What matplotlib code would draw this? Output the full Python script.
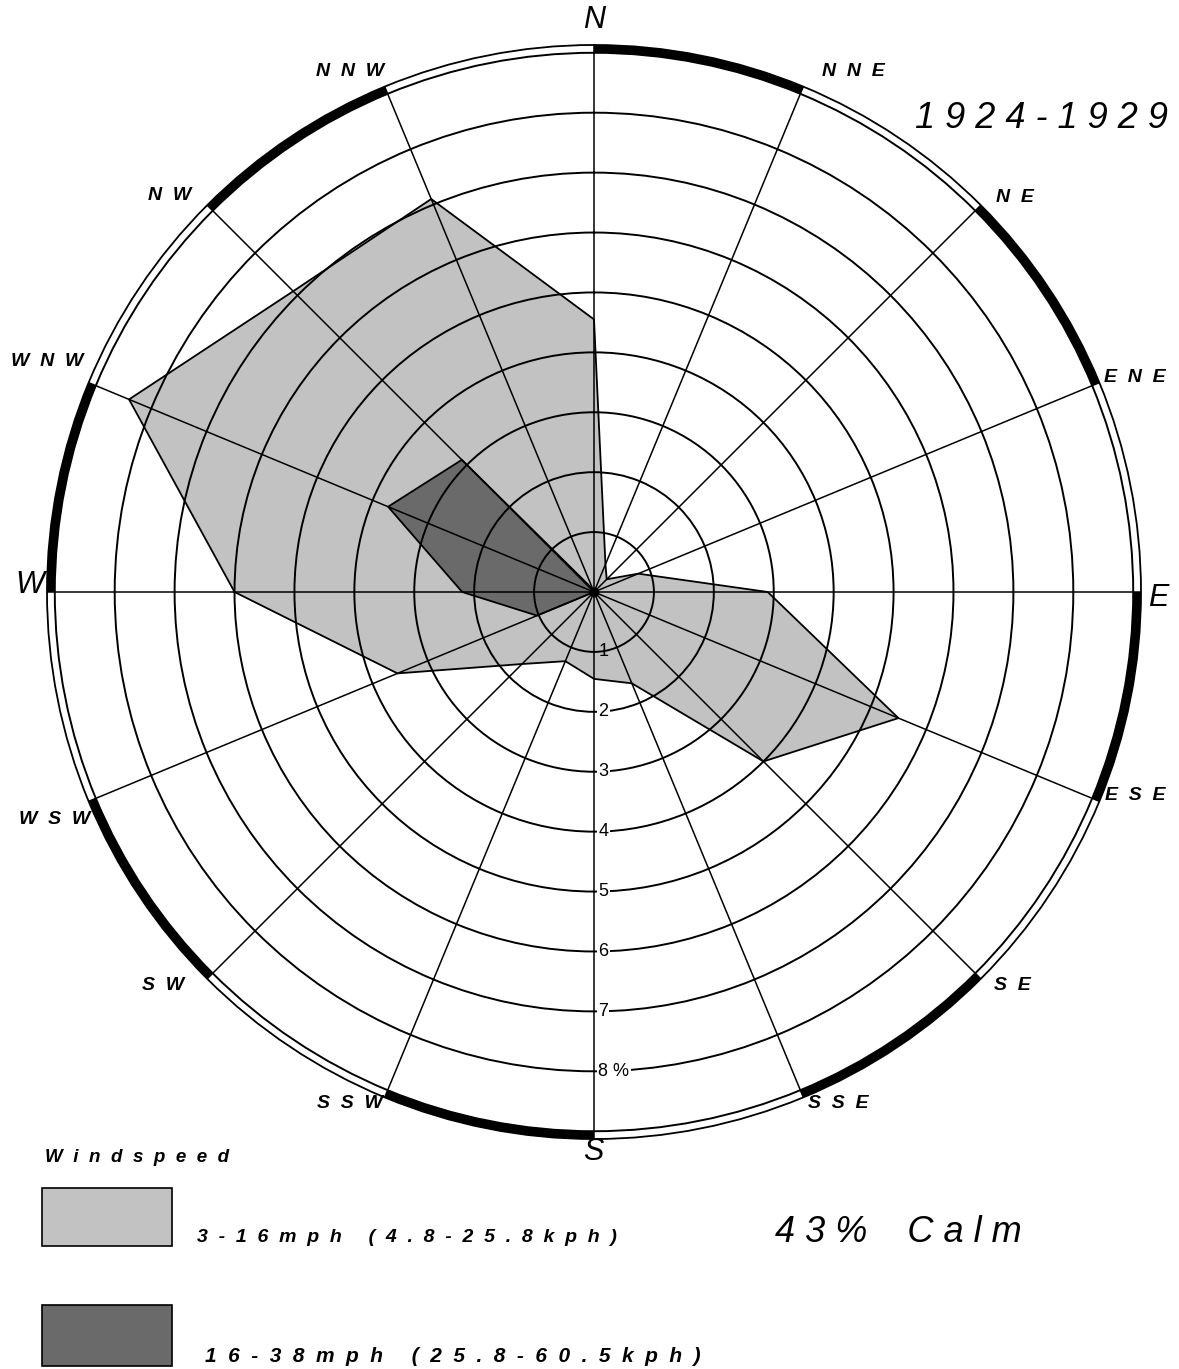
import numpy as np
import matplotlib
matplotlib.use('Agg')
import matplotlib.pyplot as plt

# wind directions, clockwise from north
directions = ['N', 'NNE', 'NE', 'ENE', 'E', 'ESE', 'SE', 'SSE',
              'S', 'SSW', 'SW', 'WSW', 'W', 'WNW', 'NW', 'NNW']
angles_deg = np.arange(0, 360, 22.5)

# percent frequency for each direction
light_pct = [4.55, 0.5, 0.3, 0.8, 2.9, 5.5, 4.0, 1.65,
             1.45, 1.25, 1.7, 3.55, 6.0, 8.4, 7.1, 7.1]   # 3-16 mph
dark_pct = [0.0, 0.0, 0.0, 0.0, 0.0, 0.0, 0.0, 0.0,
            0.0, 0.0, 0.0, 1.03, 2.2, 3.72, 3.12, 0.05]   # 16-38 mph

ring_values = [1, 2, 3, 4, 5, 6, 7, 8]
ring_labels = ['1', '2', '3', '4', '5', '6', '7', '8 %']

legend_labels = ['3-16mph (4.8-25.8kph)', '16-38mph (25.8-60.5kph)']
light_col = '#c2c2c2'
dark_col = '#6a6a6a'

plt.rcParams['font.family'] = ['Liberation Sans', 'DejaVu Sans']


def spaced(s, gap='  '):
    # letter-spaced lettering like the original drawing
    return gap.join(s)


W, H = 1179, 1369
fig = plt.figure(figsize=(W / 100, H / 100), dpi=100)

cx, cy, rad = 594, 592, 547
ax = fig.add_axes([(cx - rad) / W, (H - cy - rad) / H, 2 * rad / W, 2 * rad / H],
                  projection='polar')
ax.set_theta_zero_location('N')
ax.set_theta_direction(-1)
rmax = 9.13
ax.set_ylim(0, rmax)

theta = np.deg2rad(angles_deg)
th_closed = np.append(theta, theta[0])

ax.fill(th_closed, np.append(light_pct, light_pct[0]), facecolor=light_col,
        edgecolor='black', linewidth=1.3, zorder=1)
ax.fill(th_closed, np.append(dark_pct, dark_pct[0]), facecolor=dark_col,
        edgecolor='black', linewidth=1.3, zorder=1.1)

# grid: rings 1..9 and 16 spokes
ax.set_yticks(range(1, 10))
ax.set_yticklabels([])
ax.set_xticks(theta)
ax.set_xticklabels([])
ax.yaxis.grid(True, color='black', linewidth=1.4, linestyle='-')
ax.xaxis.grid(True, color='black', linewidth=1.1, linestyle='-')
ax.spines['polar'].set_color('black')
ax.spines['polar'].set_linewidth(1.3)

# thick black border segments
ax.bar(np.deg2rad(np.arange(11.25, 360, 45)), rmax - 9.0, width=np.deg2rad(22.5),
       bottom=9.0, color='black', linewidth=0, zorder=2)

ax.plot([0], [0], 'o', color='black', markersize=6, zorder=3)

# ring labels along the south spoke
for v, lbl in zip(ring_values, ring_labels):
    bb = None if v == 1 else dict(facecolor='white', edgecolor='none', pad=1.0)
    ax.annotate(lbl, xy=(np.pi, v), xytext=(3, 0), textcoords='offset points',
                ha='left', va='center', fontsize=13, bbox=bb, zorder=4)

# direction labels (pixel positions)
label_pos = {
    'N': (594, 20), 'NNE': (853, 72), 'NE': (1015, 197), 'ENE': (1135, 378),
    'E': (1158, 598), 'ESE': (1135, 795), 'SE': (1012, 985), 'SSE': (838, 1103),
    'S': (593, 1152), 'SSW': (350, 1103), 'SW': (163, 985), 'WSW': (55, 820),
    'W': (30, 585), 'WNW': (47, 362), 'NW': (170, 195), 'NNW': (350, 72),
}
for d in directions:
    x, y = label_pos[d]
    if len(d) == 1:
        fig.text(x / W, 1 - y / H, d, fontsize=22, style='italic',
                 ha='center', va='center')
    else:
        fig.text(x / W, 1 - y / H, spaced(d), fontsize=14, style='italic',
                 weight='bold', ha='center', va='center')

fig.text(1168 / W, 1 - 118 / H, ' '.join('1924-1929'), fontsize=26, style='italic',
         ha='right', va='center')

# legend
fig.text(45 / W, 1 - 1158 / H, spaced('Windspeed'), fontsize=13.5, style='italic',
         weight='bold', ha='left', va='center')
fig.patches.append(plt.Rectangle((42 / W, 1 - 1246 / H), 130 / W, 58 / H,
                                 transform=fig.transFigure, facecolor=light_col,
                                 edgecolor='black', linewidth=1.2))
fig.patches.append(plt.Rectangle((42 / W, 1 - 1366 / H), 130 / W, 61 / H,
                                 transform=fig.transFigure, facecolor=dark_col,
                                 edgecolor='black', linewidth=1.2))
fig.text(197 / W, 1 - 1237 / H, spaced(legend_labels[0]),
         fontsize=14, style='italic', weight='bold', ha='left', va='center')
fig.text(205 / W, 1 - 1357 / H, spaced(legend_labels[1]),
         fontsize=15, style='italic', weight='bold', ha='left', va='center')
fig.text(775 / W, 1 - 1232 / H, ' '.join('43%') + '    ' + ' '.join('Calm'),
         fontsize=26, style='italic', ha='left', va='center')

fig.savefig('out.png', dpi=100, facecolor='white')
